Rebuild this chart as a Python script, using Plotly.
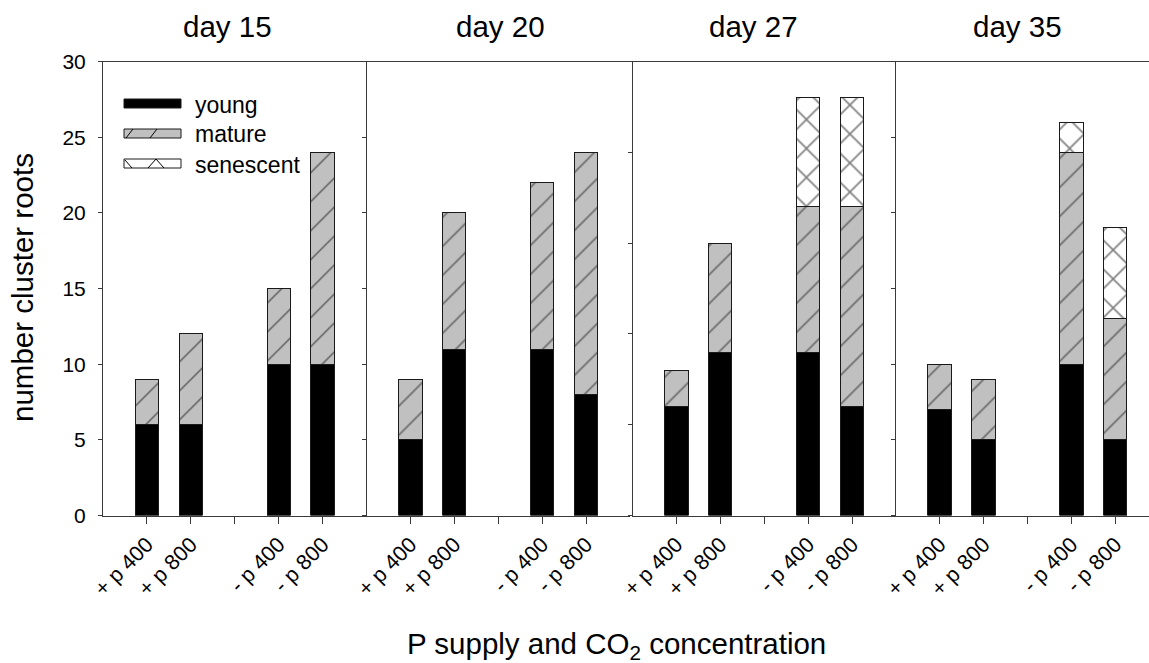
import plotly.graph_objects as go

W, H = 1149, 663
FONT = "Liberation Sans, Arial, sans-serif"

# ---- data -------------------------------------------------------------
days = ["day 15", "day 20", "day 27", "day 35"]
treatments = ["+ p 400", "+ p 800", "- p 400", "- p 800"]
stages = ["young", "mature", "senescent"]

young_d15 = [6, 6, 10, 10]
mature_d15 = [3, 6, 5, 14]
senescent_d15 = [0, 0, 0, 0]

young_d20 = [5, 11, 11, 8]
mature_d20 = [4, 9, 11, 16]
senescent_d20 = [0, 0, 0, 0]

young_d27 = [6, 9, 9, 6]
mature_d27 = [2, 6, 8, 11]
senescent_d27 = [0, 0, 6, 6]

young_d35 = [7, 5, 10, 5]
mature_d35 = [3, 4, 14, 8]
senescent_d35 = [0, 0, 2, 6]

y_max = [30, 30, 25, 30]          # upper limit of each panel's count axis
y_step = 5

# ---- layout helpers ---------------------------------------------------
slots = [1, 2, 4, 5]              # bar slots; slot 3 is the gap between P levels
gap_slot = [3]
panel_left = [103, 366.5, 632.5, 895.7]
panel_px = 263.5                  # pixel width of one full panel (6 slot units)
unit_px = panel_px / 6
plot_top, plot_bottom = 61.5, 515.5
LINE = "#3a3a3a"
TITLE_SIZE = 29.5


def fx(px):
    return px / W


def fy(py):
    return 1 - py / H


series = [
    (young_d15, mature_d15, senescent_d15),
    (young_d20, mature_d20, senescent_d20),
    (young_d27, mature_d27, senescent_d27),
    (young_d35, mature_d35, senescent_d35),
]

fig = go.Figure()
layout = dict(
    width=W, height=H, margin=dict(l=0, r=0, t=0, b=0, autoexpand=False),
    paper_bgcolor="white", plot_bgcolor="white",
    barmode="stack", showlegend=False,
    font=dict(family=FONT, color="black"),
)

bar_w = 0.53
outline = dict(color="#1a1a1a", width=1)

for i, (young, mature, sen) in enumerate(series):
    n = "" if i == 0 else str(i + 1)
    xa, ya = "x" + n, "y" + n
    fig.add_bar(x=slots, y=young, xaxis=xa, yaxis=ya, width=bar_w, name=stages[0],
                marker=dict(color="black", line=outline))
    fig.add_bar(x=slots, y=mature, xaxis=xa, yaxis=ya, width=bar_w, name=stages[1],
                marker=dict(color="#c0c0c0", line=outline,
                            pattern=dict(shape="/", size=20.5, solidity=0.075,
                                         fgcolor="black", bgcolor="#c0c0c0",
                                         fillmode="overlay")))
    if any(sen):
        fig.add_bar(x=slots, y=[v if v else None for v in sen], xaxis=xa, yaxis=ya,
                    width=bar_w, name=stages[2],
                    marker=dict(color="white", line=outline,
                                pattern=dict(shape="x", size=20.5, solidity=0.15,
                                             fgcolor="black", bgcolor="white",
                                             fillmode="overlay")))

    left = panel_left[i]
    right = min(left + panel_px, W)
    layout["xaxis" + n] = dict(
        domain=[fx(left), fx(right)], range=[0, (right - left) / unit_px],
        anchor=ya, automargin=False,
        tickmode="array", tickvals=slots, ticktext=treatments,
        tickangle=-45, ticks="outside", ticklen=7, tickcolor=LINE,
        minor=dict(tickmode="array", tickvals=gap_slot, ticks="outside",
                   ticklen=7, tickcolor=LINE, showgrid=False),
        showline=True, linecolor=LINE, linewidth=1, mirror=True,
        showgrid=False, zeroline=False,
        tickfont=dict(family=FONT, size=21.5, color="black"),
    )
    layout["yaxis" + n] = dict(
        domain=[fy(plot_bottom), fy(plot_top)], range=[0, y_max[i]],
        anchor=xa, automargin=False, tickmode="array",
        tickvals=list(range(0, y_max[i] + 1, y_step)),
        ticks="outside", ticklen=4, tickcolor=LINE,
        showline=True, linecolor=LINE, linewidth=1,
        showgrid=False, zeroline=False, showticklabels=(i == 0),
        ticklabelstandoff=8,
        tickfont=dict(family=FONT, size=21, color="black"),
    )

fig.update_layout(**layout)

# ---- panel titles and axis titles ------------------------------------
title_x = [227, 500, 753, 1018]
for label, tx in zip(days, title_x):
    fig.add_annotation(text=label, x=fx(tx), y=fy(27), xref="paper", yref="paper",
                       showarrow=False, xanchor="center", yanchor="middle",
                       font=dict(family=FONT, size=TITLE_SIZE, color="black"))

fig.add_annotation(text="number cluster roots", x=fx(22), y=fy(288),
                   xref="paper", yref="paper", showarrow=False, textangle=-90,
                   xanchor="center", yanchor="middle",
                   font=dict(family=FONT, size=TITLE_SIZE, color="black"))
fig.add_annotation(text="P supply and CO<sub>2</sub> concentration", x=fx(616), y=fy(645),
                   xref="paper", yref="paper", showarrow=False,
                   xanchor="center", yanchor="middle",
                   font=dict(family=FONT, size=TITLE_SIZE, color="black"))

# ---- legend (drawn by hand, wide flat swatches) ----------------------
sw_x0, sw_x1 = 124, 181
rows = [(99, 108), (129, 138), (159, 168)]
fills = ["black", "#c0c0c0", "white"]
for (y0, y1), fill, label in zip(rows, fills, stages):
    fig.add_shape(type="rect", xref="paper", yref="paper",
                  x0=fx(sw_x0), x1=fx(sw_x1), y0=fy(y1), y1=fy(y0),
                  fillcolor=fill, line=dict(color="#1a1a1a", width=1))
    fig.add_annotation(text=label, x=fx(193), y=fy((y0 + y1) / 2 + 1),
                       xref="paper", yref="paper", showarrow=False,
                       xanchor="left", yanchor="middle",
                       font=dict(family=FONT, size=23, color="black"))


def seg(x0, y0, x1, y1):
    fig.add_shape(type="line", xref="paper", yref="paper",
                  x0=fx(x0), y0=fy(y0), x1=fx(x1), y1=fy(y1),
                  line=dict(color="black", width=1))


# hatch marks inside the mature and senescent swatches
seg(126, 138, 133, 129)
seg(150, 138, 157, 129)
seg(125, 160, 132, 168)
seg(148, 168, 156, 159)
seg(156, 159, 164, 168)

fig.write_html("out.html")
